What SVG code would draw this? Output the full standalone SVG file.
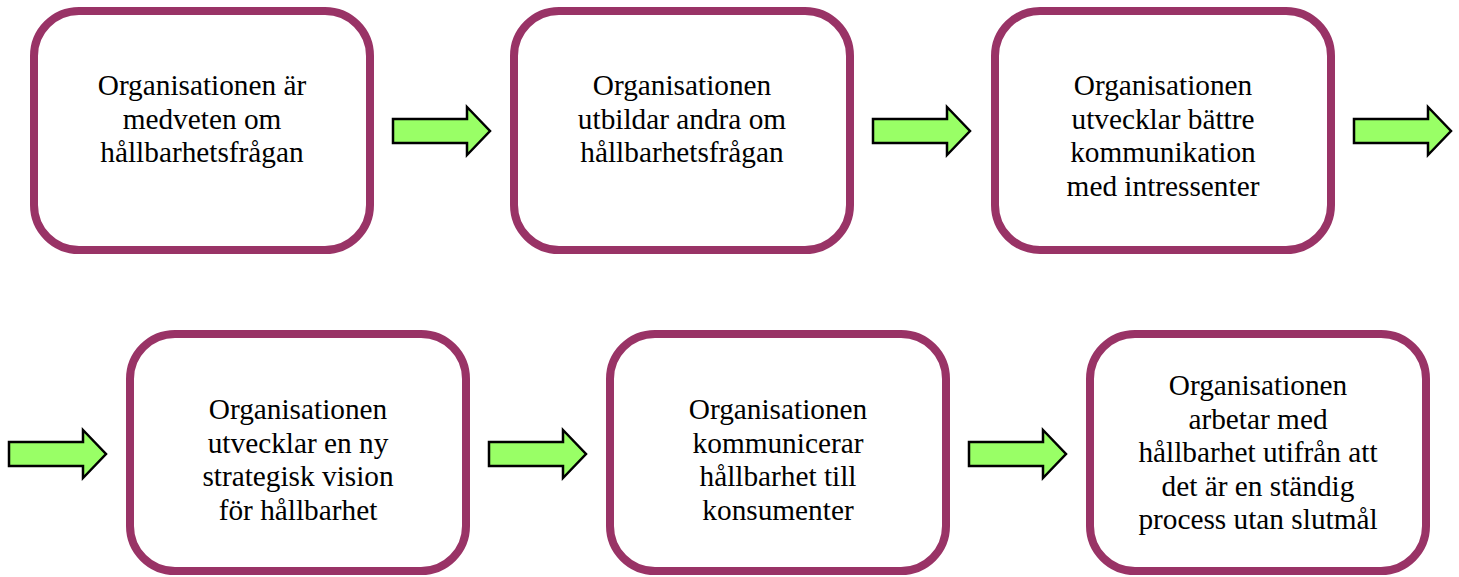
<svg xmlns="http://www.w3.org/2000/svg" width="1459" height="577" viewBox="0 0 1459 577">
<defs>
<style>
.box{fill:#ffffff;stroke:#993366;stroke-width:8}
.arr{fill:#99ff66;stroke:#000000;stroke-width:2.5;stroke-linejoin:miter}
.t{font-family:"Liberation Serif","Times New Roman",serif;font-size:29.3px;fill:#000000;text-anchor:middle}
</style>
<path id="arrow" class="arr" d="M0,12 H74 V0 L97,24 L74,48 V36 H0 Z"/>
</defs>
<rect width="1459" height="577" fill="#ffffff"/>
<g id="connectors">
<use href="#arrow" x="393" y="107"/>
<use href="#arrow" x="873" y="107"/>
<use href="#arrow" x="1354" y="107"/>
<use href="#arrow" x="9" y="430"/>
<use href="#arrow" x="489" y="430"/>
<use href="#arrow" x="969" y="430"/>
</g>
<g id="n1">
<rect class="box" x="34" y="11" width="336" height="239" rx="45"/>
<text class="t" x="202"><tspan x="202" y="95">Organisationen är</tspan><tspan x="202" y="128.5">medveten om</tspan><tspan x="202" y="162">hållbarhetsfrågan</tspan></text>
</g>
<g id="n2">
<rect class="box" x="514" y="11" width="336" height="239" rx="45"/>
<text class="t" x="682"><tspan x="682" y="95">Organisationen</tspan><tspan x="682" y="128.5">utbildar andra om</tspan><tspan x="682" y="162">hållbarhetsfrågan</tspan></text>
</g>
<g id="n3">
<rect class="box" x="995" y="11" width="336" height="239" rx="45"/>
<text class="t" x="1163"><tspan x="1163" y="95">Organisationen</tspan><tspan x="1163" y="128.5">utvecklar bättre</tspan><tspan x="1163" y="162">kommunikation</tspan><tspan x="1163" y="195.5">med intressenter</tspan></text>
</g>
<g id="n4">
<rect class="box" x="130" y="334" width="336" height="237" rx="45"/>
<text class="t" x="298"><tspan x="298" y="419">Organisationen</tspan><tspan x="298" y="452.5">utvecklar en ny</tspan><tspan x="298" y="486">strategisk vision</tspan><tspan x="298" y="519.5">för hållbarhet</tspan></text>
</g>
<g id="n5">
<rect class="box" x="610" y="334" width="336" height="237" rx="45"/>
<text class="t" x="778"><tspan x="778" y="419">Organisationen</tspan><tspan x="778" y="452.5">kommunicerar</tspan><tspan x="778" y="486">hållbarhet till</tspan><tspan x="778" y="519.5">konsumenter</tspan></text>
</g>
<g id="n6">
<rect class="box" x="1090" y="334" width="336" height="237" rx="45"/>
<text class="t" x="1258"><tspan x="1258" y="395">Organisationen</tspan><tspan x="1258" y="428.5">arbetar med</tspan><tspan x="1258" y="462">hållbarhet utifrån att</tspan><tspan x="1258" y="495.5">det är en ständig</tspan><tspan x="1258" y="529">process utan slutmål</tspan></text>
</g>
</svg>
